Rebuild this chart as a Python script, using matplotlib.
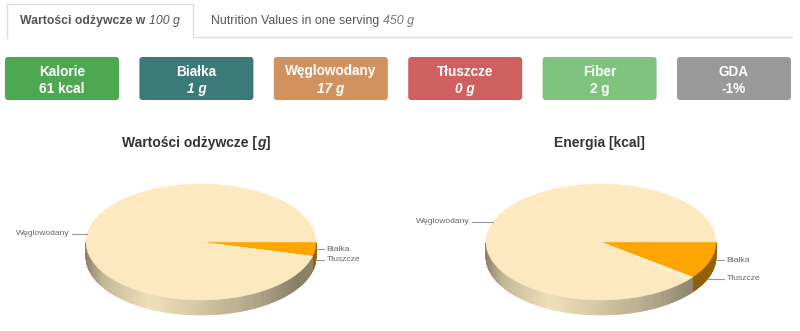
import matplotlib
matplotlib.use("Agg")
import matplotlib.pyplot as plt
from matplotlib.patches import FancyBboxPatch
from matplotlib.collections import PolyCollection
from matplotlib.colors import to_rgb
import numpy as np

plt.rcParams['font.family'] = ['Liberation Sans', 'DejaVu Sans']

# --- data -------------------------------------------------------------
tab_active = ('Wartości odżywcze w ', '100 g')
tab_other = ('Nutrition Values in one serving ', '450 g')

box_labels = ['Kalorie', 'Białka', 'Węglowodany', 'Tłuszcze', 'Fiber', 'GDA']
box_values = ['61 kcal', '1 g', '17 g', '0 g', '2 g', '-1%']
box_italic = [False, True, True, True, False, False]
box_colors = ['#4da850', '#3b7a78', '#d19260', '#d06060', '#7ec47e', '#999999']

pie_labels = ['Białka', 'Tłuszcze', 'Węglowodany']
grams_values = [0.7, 0.1, 17.0]
kcal_values = [6.3, 0.7, 54.0]
slice_colors = ['#ffa500', '#fff0cc', '#fde9c0']
side_colors = ['#ffab14', '#f6e6bc', '#f6e6bc']

# --- figure -----------------------------------------------------------
fig = plt.figure(figsize=(8, 3.31), dpi=100)
ax = fig.add_axes([0, 0, 1, 1])
ax.set_xlim(0, 800)
ax.set_ylim(331, 0)
ax.axis('off')


def rich(ax, x, y, parts, ha='left', **kw):
    texts = []
    for s, style in parts:
        st = dict(kw)
        st.update(style)
        if not texts:
            t = ax.text(x, y, s, ha='left', va='center', **st)
        else:
            t = ax.annotate(s, xy=(1, 0), xycoords=texts[-1], ha='left',
                            va='bottom', **st)
        texts.append(t)
    if ha == 'center':
        r = fig.canvas.get_renderer()
        w = texts[-1].get_window_extent(r).x1 - texts[0].get_window_extent(r).x0
        texts[0].set_x(x - w / 2)
    return texts


# tabs
ax.plot([7, 7, 193, 193, 792], [38, 4, 4, 37, 37], color='#dddddd', lw=1)
rich(ax, 20, 21, [(tab_active[0], dict(fontweight='bold')),
                  (tab_active[1], dict(fontstyle='italic'))],
     fontsize=8.8, color='#555555')
rich(ax, 211, 21, [(tab_other[0], dict()),
                   (tab_other[1], dict(fontstyle='italic', color='#777777'))],
     fontsize=8.9, color='#555555')

# summary boxes
for i, (lab, val, it, col) in enumerate(zip(box_labels, box_values, box_italic, box_colors)):
    x0 = 5 + i * 134.4
    ax.add_patch(FancyBboxPatch((x0, 57), 114, 43,
                                boxstyle='round,pad=0,rounding_size=3',
                                fc=col, ec='none'))
    ax.text(x0 + 57, 71.5, lab, ha='center', va='center', color='white',
            fontsize=9.8, fontweight='bold')
    ax.text(x0 + 57, 89, val, ha='center', va='center', color='white',
            fontsize=9.8, fontweight='bold', fontstyle='italic' if it else 'normal')

# titles
rich(ax, 196, 143, [('Wartości odżywcze [', dict()),
                    ('g', dict(fontstyle='italic')), (']', dict())],
     ha='center', fontsize=10, fontweight='bold', color='#333333')
ax.text(599, 143, 'Energia [kcal]', ha='center', va='center', fontsize=10,
        fontweight='bold', color='#333333')

# --- 3d-looking pies --------------------------------------------------
RX, RY, DEPTH = 115.0, 58.0, 15.0
d = DEPTH / RY


def shade(x):
    return np.interp(x, [-1, -0.85, -0.45, 0, 0.5, 0.85, 1],
                     [0.56, 0.8, 0.97, 0.86, 0.7, 0.55, 0.58])


def pie3d(cx, cy, values):
    pax = fig.add_axes([(cx - 190) / 800, 1 / 331, 380 / 800, 165 / 331])
    pax.patch.set_alpha(0)
    wedges, _ = pax.pie(values, colors=slice_colors, startangle=0,
                        counterclock=False, wedgeprops=dict(linewidth=0.3, zorder=3))
    for w in wedges:
        w.set_edgecolor(w.get_facecolor())
    pax.set_aspect('auto')
    pax.set_xlim(-190 / RX, 190 / RX)
    pax.set_ylim(-(330 - cy) / RY, (cy - 165) / RY)
    pax.axis('off')

    total = float(sum(values))
    start = 0.0
    mids = []
    polys, cols = [], []
    for v, sc in zip(values, side_colors):
        a1 = start - v / total * 360
        a2 = start
        start = a1
        mids.append(np.radians((a1 + a2) / 2))
        lo, hi = max(a1, -180), min(a2, 0)
        if hi <= lo:
            continue
        t = np.radians(np.linspace(lo, hi, max(2, int((hi - lo) * 2))))
        base = np.array(to_rgb(sc))
        for t1, t2 in zip(t[:-1], t[1:]):
            x1, x2 = np.cos(t1), np.cos(t2)
            y1, y2 = np.sin(t1), np.sin(t2)
            polys.append([(x1, y1), (x2, y2), (x2, y2 - d), (x1, y1 - d)])
            cols.append(np.clip(base * shade((x1 + x2) / 2), 0, 1))
    pax.add_collection(PolyCollection(polys, facecolors=cols, edgecolors=cols,
                                      linewidths=0.4, zorder=1))

    # labels with connectors
    right = [(m, lab) for m, lab in zip(mids, pie_labels) if np.cos(m) >= 0]
    left = [(m, lab) for m, lab in zip(mids, pie_labels) if np.cos(m) < 0]
    for group, sgn in ((right, 1), (left, -1)):
        group.sort(key=lambda p: -np.sin(p[0]))
        prev = None
        for m, lab in group:
            y = np.sin(m)
            if prev is not None and y > prev - 0.18:
                y = prev - 0.18
            prev = y
            s = np.clip(-y, 0, d)
            xr = sgn * np.sqrt(max(0.0, 1 - min(1.0, (y + s) ** 2)))
            xe = 1.07 if sgn > 0 else 1.12
            pax.plot([xr, sgn * xe], [y, y], color='#999999', lw=0.8, zorder=4)
            pax.text(sgn * (xe + 0.02), y, lab, ha='left' if sgn > 0 else 'right',
                     va='center', fontsize=6.1, color='#666666', zorder=5)


pie3d(201, 242, grams_values)
pie3d(601, 242, kcal_values)

fig.savefig('out.png', dpi=100)
